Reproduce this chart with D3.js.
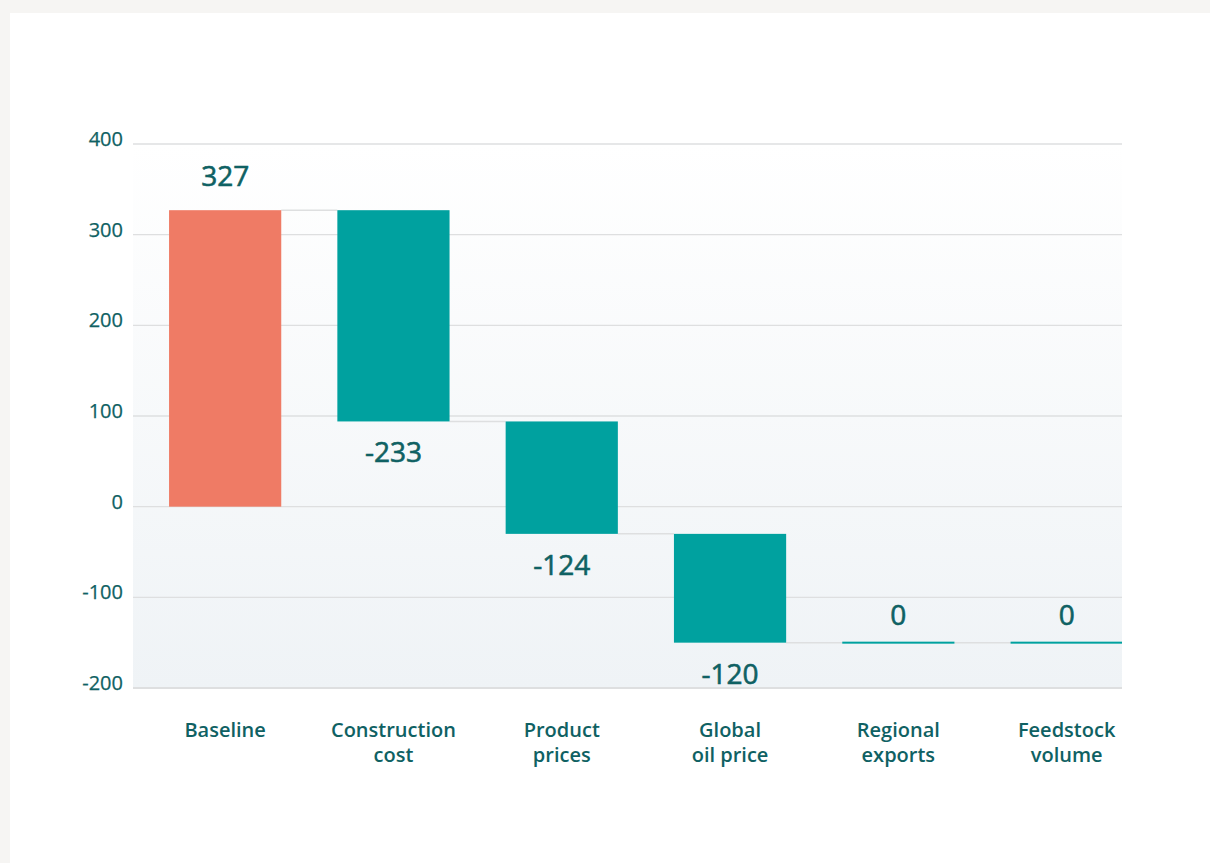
<!DOCTYPE html>
<html>
<head>
<meta charset="utf-8">
<script src="https://cdn.jsdelivr.net/npm/d3@7"></script>
<style>
  html, body { margin: 0; padding: 0; background: #f6f5f3; }
  body { width: 1210px; height: 863px; overflow: hidden; position: relative; }
  .card { position: absolute; left: 10px; top: 13px; width: 1200px; height: 850px; background: #ffffff; }
  svg { position: absolute; left: 0; top: 0; }
  text { font-family: "Open Sans", "Noto Sans", sans-serif; }
</style>
</head>
<body>
<div class="card"></div>
<svg id="chart" width="1210" height="863"></svg>
<script>
// Waterfall: starting baseline followed by incremental changes
const categories = ["Baseline", "Construction cost", "Product prices", "Global oil price", "Regional exports", "Feedstock volume"];
const labelLines = [["Baseline"], ["Construction", "cost"], ["Product", "prices"], ["Global", "oil price"], ["Regional", "exports"], ["Feedstock", "volume"]];
const changes = [327, -233, -124, -120, 0, 0];
const yTicks = [400, 300, 200, 100, 0, -100, -200];

const TEAL = "#00a19f";
const CORAL = "#ef7b65";
const INK = "#0f6163";
const GRID = "#dedfe0";

const svg = d3.select("#chart");
const plot = { left: 133, right: 1122, top: 144, bottom: 688 };

const y = d3.scaleLinear().domain([-200, 400]).range([plot.bottom, plot.top]);
const x = d3.scaleBand().domain(categories).range([141, 1150.8]).paddingInner(1 / 3).paddingOuter(1 / 6);

// running totals
let acc = 0;
const steps = changes.map((v, i) => {
  const start = i === 0 ? 0 : acc;
  const end = i === 0 ? v : acc + v;
  acc = end;
  return { cat: categories[i], value: v, start, end, base: i === 0 };
});

// plot background gradient
const defs = svg.append("defs");
const grad = defs.append("linearGradient").attr("id", "bg").attr("x1", 0).attr("y1", 0).attr("x2", 0).attr("y2", 1);
grad.append("stop").attr("offset", "0%").attr("stop-color", "#ffffff");
grad.append("stop").attr("offset", "100%").attr("stop-color", "#eff3f6");
svg.append("rect")
  .attr("x", plot.left).attr("y", plot.top)
  .attr("width", plot.right - plot.left).attr("height", plot.bottom - plot.top)
  .attr("fill", "url(#bg)");

// gridlines
svg.append("g").selectAll("line").data(yTicks).join("line")
  .attr("x1", plot.left).attr("x2", plot.right)
  .attr("y1", d => y(d)).attr("y2", d => y(d))
  .attr("stroke", GRID).attr("stroke-width", d => d === -200 ? 2 : 1.3);

// y tick labels
svg.append("g").selectAll("text").data(yTicks).join("text")
  .attr("x", 123).attr("y", d => y(d) + 2)
  .attr("text-anchor", "end")
  .attr("font-size", 20).attr("fill", INK)
  .attr("stroke", INK).attr("stroke-width", 0.25)
  .text(d => d);

// connectors between consecutive bars
const conn = steps.slice(0, -1).map((s, i) => ({ level: s.end, from: s.cat, to: steps[i + 1].cat }));
svg.append("g").selectAll("line").data(conn).join("line")
  .attr("x1", d => x(d.from) + x.bandwidth())
  .attr("x2", d => x(d.to))
  .attr("y1", d => y(d.level)).attr("y2", d => y(d.level))
  .attr("stroke", GRID).attr("stroke-width", 1.5);

// bars
svg.append("g").selectAll("rect").data(steps).join("rect")
  .attr("x", d => x(d.cat))
  .attr("width", d => Math.min(x.bandwidth(), plot.right - x(d.cat)))
  .attr("y", d => d.value === 0 ? y(d.end) - 1 : y(Math.max(d.start, d.end)))
  .attr("height", d => d.value === 0 ? 2 : Math.abs(y(d.start) - y(d.end)))
  .attr("fill", d => d.base ? CORAL : TEAL);

// value labels: above rising bars and flat steps, below falling bars
svg.append("g").selectAll("text").data(steps).join("text")
  .attr("x", d => x(d.cat) + x.bandwidth() / 2)
  .attr("y", d => d.value < 0 ? y(d.end) + 41 : d.value === 0 ? y(d.end) - 18 : y(d.end) - 24)
  .attr("text-anchor", "middle")
  .attr("font-size", 28).attr("fill", INK)
  .attr("stroke", INK).attr("stroke-width", 0.6)
  .text(d => d.value);

// category labels
const cat = svg.append("g").selectAll("text").data(steps).join("text")
  .attr("x", d => x(d.cat) + x.bandwidth() / 2)
  .attr("y", 737)
  .attr("text-anchor", "middle")
  .attr("font-size", 20).attr("font-weight", 600).attr("fill", INK);
cat.each(function (d, i) {
  d3.select(this).selectAll("tspan").data(labelLines[i]).join("tspan")
    .attr("x", x(d.cat) + x.bandwidth() / 2)
    .attr("dy", (t, j) => j === 0 ? 0 : 25)
    .text(t => t);
});
</script>
</body>
</html>
